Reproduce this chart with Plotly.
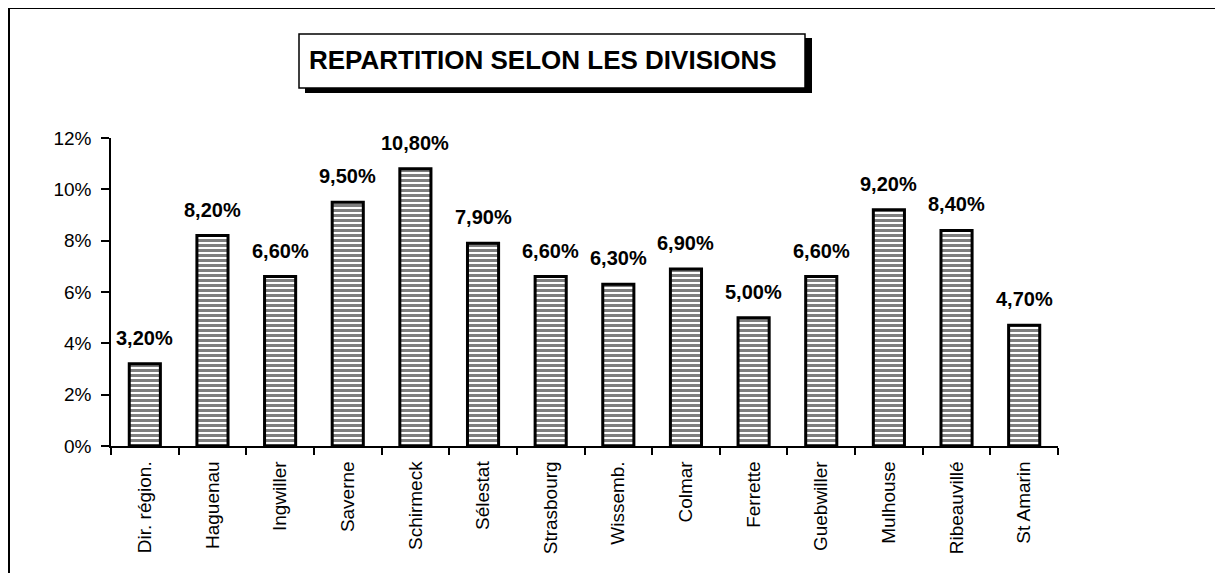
import plotly.graph_objects as go

categories = ["Dir. région.", "Haguenau", "Ingwiller", "Saverne", "Schirmeck", "Sélestat",
              "Strasbourg", "Wissemb.", "Colmar", "Ferrette", "Guebwiller", "Mulhouse",
              "Ribeauvillé", "St Amarin"]
values = [3.2, 8.2, 6.6, 9.5, 10.8, 7.9, 6.6, 6.3, 6.9, 5.0, 6.6, 9.2, 8.4, 4.7]
value_labels = ["3,20%", "8,20%", "6,60%", "9,50%", "10,80%", "7,90%", "6,60%", "6,30%",
                "6,90%", "5,00%", "6,60%", "9,20%", "8,40%", "4,70%"]
y_ticks = [0, 2, 4, 6, 8, 10, 12]
y_tick_labels = ["0%", "2%", "4%", "6%", "8%", "10%", "12%"]
title_text = "REPARTITION SELON LES DIVISIONS"

OFF = 8  # page body margin
W, H = 1223 - 2 * OFF, 581 - 2 * OFF
L, R, T, B = 111, 1058, 138, 446  # plot area in window pixels


def px(x):
    return (x - L) / (R - L)


def py(y):
    return (B - y) / (B - T)


fig = go.Figure()
fig.add_trace(go.Bar(
    x=categories, y=values,
    marker=dict(color="white", line=dict(color="black", width=3),
                pattern=dict(shape="-", fgcolor="black", bgcolor="white", size=5, solidity=0.6)),
    hoverinfo="skip",
))

for c, v, t in zip(categories, values, value_labels):
    fig.add_annotation(x=c, y=v, text="<b>%s</b>" % t, showarrow=False,
                       yanchor="bottom", yshift=13,
                       font=dict(family="Liberation Sans, Arial", size=20, color="black"))

# Title box with shadow
fig.add_shape(type="rect", xref="paper", yref="paper",
              x0=px(305), x1=px(812), y0=py(93), y1=py(38),
              fillcolor="black", line=dict(width=0), layer="above")
fig.add_shape(type="rect", xref="paper", yref="paper",
              x0=px(299), x1=px(805), y0=py(88), y1=py(34),
              fillcolor="white", line=dict(color="black", width=1.5), layer="above")
fig.add_annotation(xref="paper", yref="paper", x=px(543), y=py(60),
                   text="<b>%s</b>" % title_text, showarrow=False,
                   xanchor="center", yanchor="middle",
                   font=dict(family="Liberation Sans, Arial", size=26, color="black"))

# Outer frame (top and left lines visible)
fig.add_shape(type="line", xref="paper", yref="paper",
              x0=px(9), x1=px(1240), y0=py(8), y1=py(8), line=dict(color="black", width=2))
fig.add_shape(type="line", xref="paper", yref="paper",
              x0=px(9), x1=px(9), y0=py(8), y1=py(600), line=dict(color="black", width=2))

fig.update_layout(
    width=W, height=H,
    margin=dict(l=L - OFF, r=W - (R - OFF), t=T - OFF, b=H - (B - OFF), pad=0),
    paper_bgcolor="white", plot_bgcolor="white",
    bargap=0.54, showlegend=False,
    font=dict(family="Liberation Sans, Arial", color="black"),
)
fig.update_xaxes(
    type="category", tickson="boundaries", ticks="outside", ticklen=7,
    tickcolor="black", tickwidth=1.5, showline=True, linecolor="black", linewidth=1.5,
    tickangle=-90, tickfont=dict(size=19, family="Liberation Sans, Arial"),
    ticklabelstandoff=6,
    showgrid=False, zeroline=False, fixedrange=True,
)
fig.update_yaxes(
    range=[0, 12], tickvals=y_ticks, ticktext=y_tick_labels,
    ticks="outside", ticklen=8, tickcolor="black", tickwidth=1.5,
    showline=True, linecolor="black", linewidth=1.5,
    tickfont=dict(size=19, family="Liberation Sans, Arial"),
    ticklabelstandoff=6,
    showgrid=False, zeroline=False, fixedrange=True,
)

fig.write_html("out.html", config={"displayModeBar": False})
